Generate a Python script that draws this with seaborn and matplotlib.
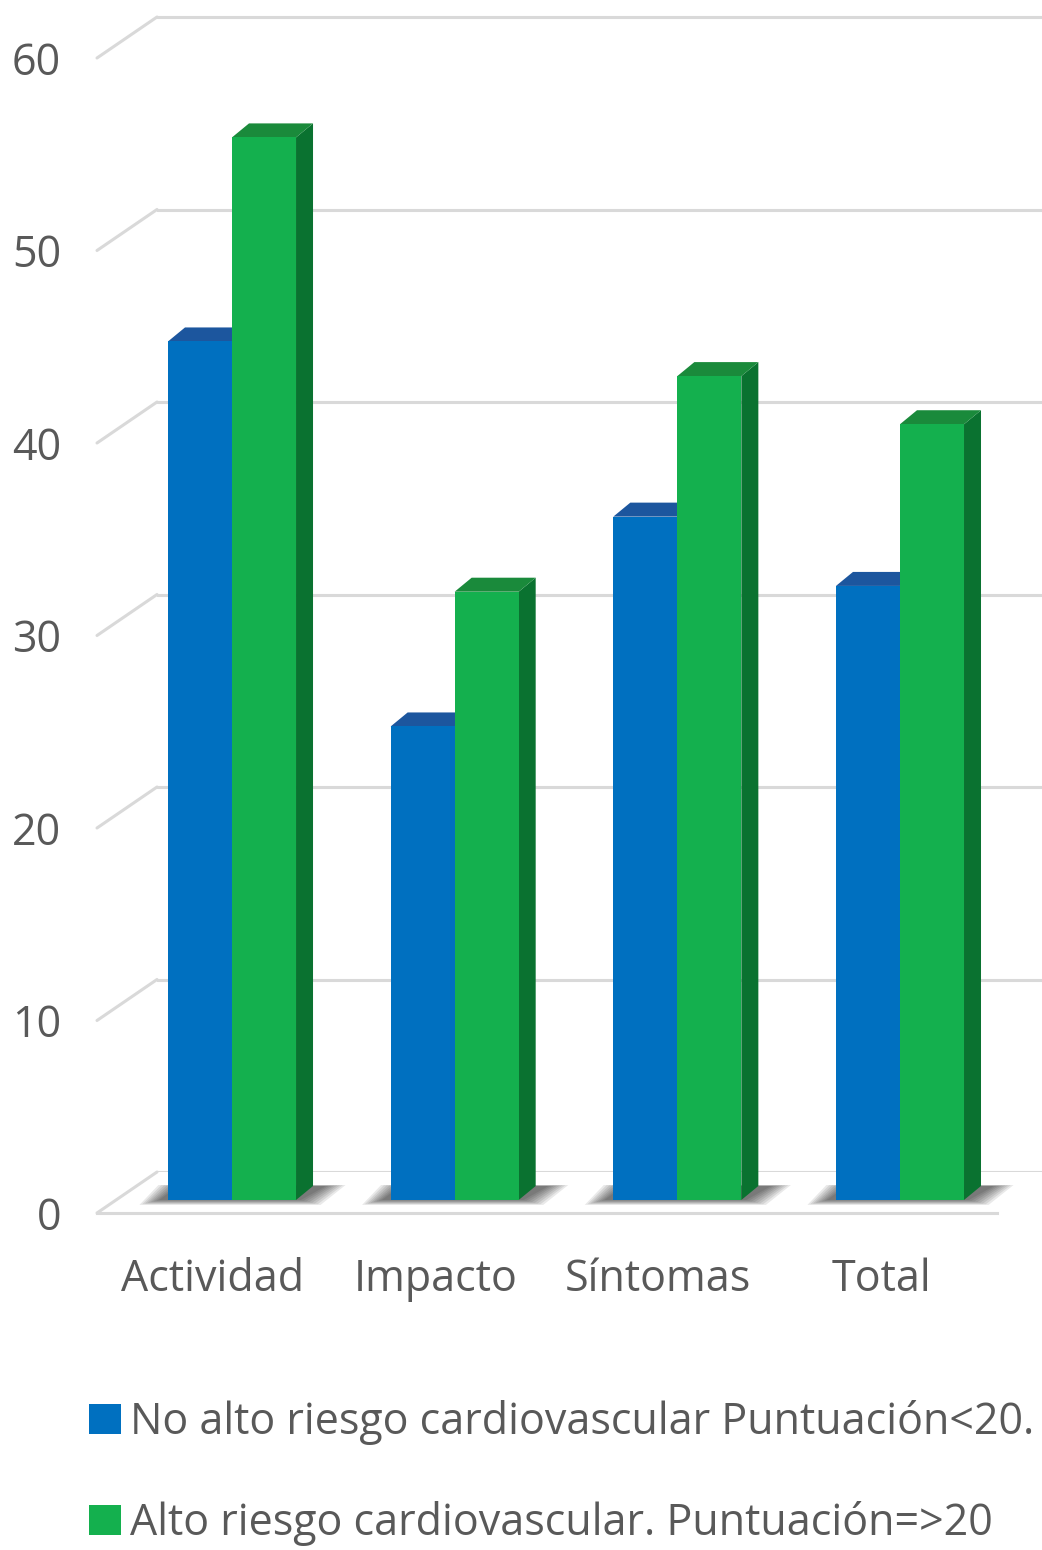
import numpy as np
import pandas as pd
import seaborn as sns
import matplotlib
matplotlib.use("Agg")
import matplotlib.pyplot as plt
from matplotlib.patches import Polygon, Patch
from matplotlib.lines import Line2D

# ---------------- data ----------------
categories = ["Actividad", "Impacto", "Síntomas", "Total"]
series_names = ["No alto riesgo cardiovascular Puntuación<20.",
                "Alto riesgo cardiovascular. Puntuación=>20"]
no_alto_riesgo = [44.6, 24.6, 35.5, 31.9]
alto_riesgo = [55.2, 31.6, 42.8, 40.3]
y_ticks = [0, 10, 20, 30, 40, 50, 60]

# ---------------- style ----------------
front_colors = ["#0070C0", "#14B04E"]
top_colors = ["#1C569E", "#1A8A3B"]
side_colors = ["#0B5290", "#0A7230"]
grid_color = "#D9D9D9"
text_color = "#595959"

sns.set_theme(style="white")
plt.rcParams["font.family"] = ["Open Sans", "DejaVu Sans"]

W, H, DPI = 1042, 1550, 100
fig = plt.figure(figsize=(W / DPI, H / DPI), dpi=DPI)

xlim = (-0.521, 3.521)
ylim = (0, 62)
left_px, right_px = 116, 1016       # bar plane
base_px = 1200                      # zero of bar plane (from top)
px_per_unit = 19.25
ax_h_px = (ylim[1] - ylim[0]) * px_per_unit
ax_w_px = right_px - left_px

front_off = (-19, 13)   # pixels (right, down)
back_off = (41, -28)
bar_depth = (17, -14)

def box(off, width=ax_w_px):
    l = left_px + off[0]
    b = base_px + off[1]
    return [l / W, (H - b) / H, width / W, ax_h_px / H]

# back wall (gridlines)
ax_back = fig.add_axes(box(back_off, W - (left_px + back_off[0])), zorder=0)
ax_back.set_ylim(*ylim)
ax_back.set_yticks(y_ticks)
ax_back.set_xticks([])
ax_back.tick_params(left=False, labelleft=False)
ax_back.grid(axis="y", color=grid_color, linewidth=2.2)
ax_back.patch.set_alpha(0)
for s in ax_back.spines.values():
    s.set_visible(False)

# front plane (tick labels + floor edge)
ax_front = fig.add_axes(box(front_off), zorder=1)
ax_front.set_xlim(*xlim)
ax_front.set_ylim(*ylim)
ax_front.set_xticks(range(len(categories)))
ax_front.set_xticklabels(categories)
ax_front.set_yticks(y_ticks)
ax_front.set_yticklabels([str(v) for v in y_ticks])
ax_front.tick_params(axis="x", length=0, pad=32, labelsize=31, labelcolor=text_color)
ax_front.tick_params(axis="y", length=0, pad=26, labelsize=31, labelcolor=text_color)
ax_front.patch.set_alpha(0)
for k, s in ax_front.spines.items():
    s.set_visible(k == "bottom")
ax_front.spines["bottom"].set_color(grid_color)
ax_front.spines["bottom"].set_linewidth(2.2)

# left wall edges connecting front and back
inv = fig.transFigure.inverted()
for v in y_ticks:
    p1 = ax_front.transData.transform((xlim[0], v))
    p2 = ax_back.transData.transform((ax_back.get_xlim()[0], v))
    q1, q2 = inv.transform(p1), inv.transform(p2)
    fig.add_artist(Line2D([q1[0], q2[0]], [q1[1], q2[1]], color=grid_color,
                          linewidth=2.2, transform=fig.transFigure, zorder=0.5))

# main bar axes
ax = fig.add_axes(box((0, 0)), zorder=2)
df = pd.DataFrame({
    "Categoría": categories * 2,
    "Valor": no_alto_riesgo + alto_riesgo,
    "Serie": [series_names[0]] * 4 + [series_names[1]] * 4,
})
sns.barplot(data=df, x="Categoría", y="Valor", hue="Serie", hue_order=series_names,
            palette=front_colors, width=0.575, saturation=1, legend=False,
            edgecolor="none", linewidth=0, ax=ax, zorder=3)
ax.set_xlim(*xlim)
ax.set_ylim(*ylim)
ax.set_xticks([])
ax.set_yticks([])
ax.set_xlabel("")
ax.set_ylabel("")
ax.patch.set_alpha(0)
for s in ax.spines.values():
    s.set_visible(False)

px_x = ax_w_px / (xlim[1] - xlim[0])
px_y = px_per_unit
dxd = bar_depth[0] / px_x
dyd = -bar_depth[1] / px_y

bars = list(ax.patches)
n = len(categories)
# soft floor shadows per group
for i in range(n):
    b1, b2 = bars[i], bars[i + n]
    x0 = b1.get_x()
    x1 = b2.get_x() + b2.get_width()
    for k in range(8):
        e = (1 + 2.8 * k) / px_x
        ev = (0.7 * k) / px_y
        poly = [(x0 - e - 8 / px_x, -ev), (x1 + e + 4 / px_x, -ev),
                (x1 + dxd + e + 12 / px_x, dyd + 0.2 * ev),
                (x0 + dxd - e - 6 / px_x, dyd + 0.2 * ev)]
        ax.add_patch(Polygon(poly, closed=True, facecolor="black", alpha=0.085,
                             edgecolor="none", zorder=1, clip_on=False))

# 3D top and side faces
for j, b in enumerate(bars):
    s = j // n
    x0 = b.get_x()
    x1 = x0 + b.get_width()
    h = b.get_height()
    top = [(x0, h), (x1, h), (x1 + dxd, h + dyd), (x0 + dxd, h + dyd)]
    side = [(x1, 0), (x1 + dxd, dyd), (x1 + dxd, h + dyd), (x1, h)]
    ax.add_patch(Polygon(side, closed=True, facecolor=side_colors[s],
                         edgecolor="none", zorder=2, clip_on=False))
    ax.add_patch(Polygon(top, closed=True, facecolor=top_colors[s],
                         edgecolor="none", zorder=2, clip_on=False))

# legend
handles = [Patch(facecolor=c, edgecolor="none") for c in front_colors]
fig.legend(handles, series_names, loc="upper left",
           bbox_to_anchor=(89 / W, 1 - 1400 / H), frameon=False,
           fontsize=31, labelcolor=text_color, handlelength=0.75,
           handleheight=0.68, handletextpad=0.2, labelspacing=1.3,
           borderpad=0, borderaxespad=0)

fig.savefig("out.png", dpi=DPI, facecolor="white")
